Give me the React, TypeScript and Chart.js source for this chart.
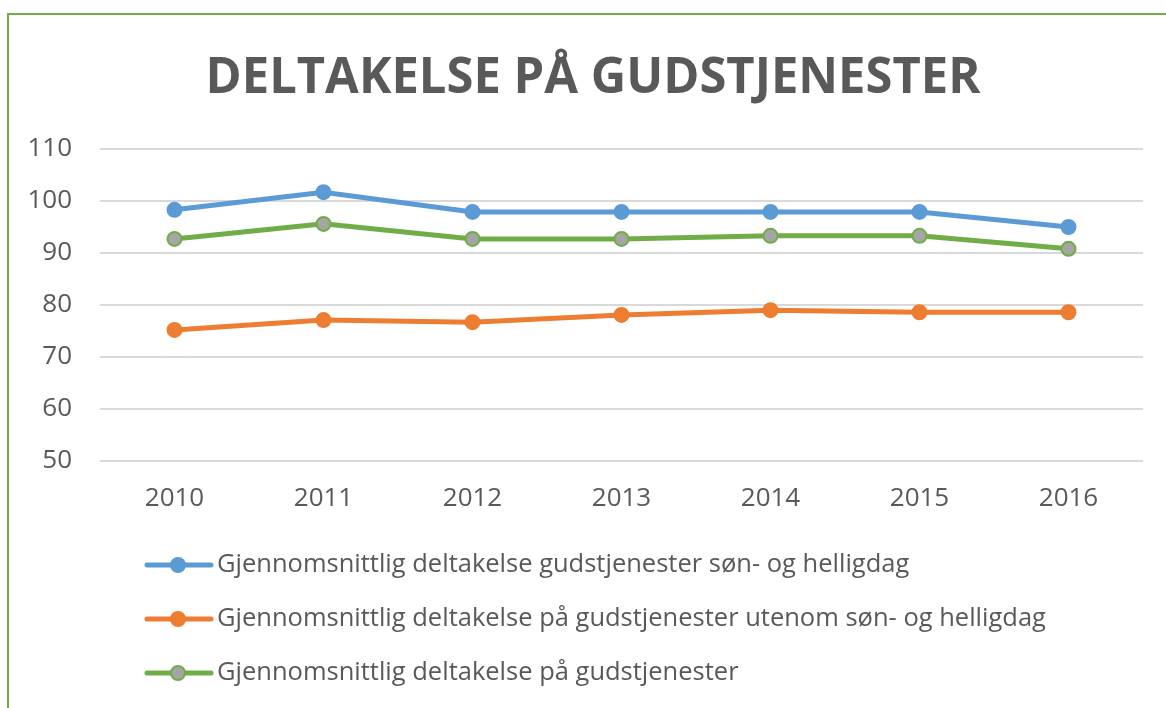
import React, { useEffect, useRef } from "react";
import { Chart, registerables } from "chart.js";

Chart.register(...registerables);

const TITLE = "DELTAKELSE PÅ GUDSTJENESTER";
const categories = ["2010", "2011", "2012", "2013", "2014", "2015", "2016"];
const seriesNames = [
  "Gjennomsnittlig deltakelse gudstjenester søn- og helligdag",
  "Gjennomsnittlig deltakelse på gudstjenester utenom søn- og helligdag",
  "Gjennomsnittlig deltakelse på gudstjenester",
];
const sonOgHelligdag = [98.3, 101.7, 97.9, 97.9, 97.9, 97.9, 95.0];
const utenomSonOgHelligdag = [75.2, 77.1, 76.7, 78.1, 79.0, 78.6, 78.6];
const totalt = [92.7, 95.6, 92.7, 92.7, 93.3, 93.3, 90.8];
const yTicks = [50, 60, 70, 80, 90, 100, 110];

const TEXT = "#595959";
const FONT = "'Open Sans', 'DejaVu Sans', sans-serif";

const titlePlugin = {
  id: "customTitle",
  afterDraw(chart: any) {
    const ctx = chart.ctx;
    ctx.save();
    ctx.fillStyle = TEXT;
    ctx.font = `bold 50px ${FONT}`;
    ctx.textAlign = "center";
    ctx.textBaseline = "alphabetic";
    ctx.fillText(TITLE, 593, 93, 775);
    ctx.restore();
  },
};

const legendPlugin = {
  id: "customLegend",
  afterDraw(chart: any) {
    const ctx = chart.ctx;
    const ys = [565, 619, 673];
    chart.data.datasets.forEach((ds: any, i: number) => {
      const y = ys[i];
      ctx.save();
      ctx.strokeStyle = ds.borderColor;
      ctx.lineWidth = 5;
      ctx.lineCap = "round";
      ctx.beginPath();
      ctx.moveTo(147, y);
      ctx.lineTo(211, y);
      ctx.stroke();
      ctx.beginPath();
      ctx.arc(178, y, 7, 0, Math.PI * 2);
      ctx.fillStyle = ds.pointBackgroundColor;
      ctx.fill();
      ctx.lineWidth = 2;
      ctx.strokeStyle = ds.pointBorderColor;
      ctx.stroke();
      ctx.fillStyle = TEXT;
      ctx.font = `25.5px ${FONT}`;
      ctx.textAlign = "left";
      ctx.textBaseline = "middle";
      ctx.fillText(ds.label, 217, y);
      ctx.restore();
    });
  },
};

function App() {
  const ref = useRef<HTMLCanvasElement | null>(null);
  useEffect(() => {
    if (!ref.current) return;
    const chart = new Chart(ref.current, {
      type: "line",
      data: {
        labels: categories,
        datasets: [
          {
            label: seriesNames[0],
            data: sonOgHelligdag,
            borderColor: "#5B9BD5",
            backgroundColor: "#5B9BD5",
            pointBackgroundColor: "#5B9BD5",
            pointBorderColor: "#5B9BD5",
            borderWidth: 5,
            pointRadius: 7,
            pointBorderWidth: 2,
          },
          {
            label: seriesNames[1],
            data: utenomSonOgHelligdag,
            borderColor: "#ED7D31",
            backgroundColor: "#ED7D31",
            pointBackgroundColor: "#ED7D31",
            pointBorderColor: "#ED7D31",
            borderWidth: 5,
            pointRadius: 7,
            pointBorderWidth: 2,
          },
          {
            label: seriesNames[2],
            data: totalt,
            borderColor: "#70AD47",
            backgroundColor: "#A5A5A5",
            pointBackgroundColor: "#A5A5A5",
            pointBorderColor: "#70AD47",
            borderWidth: 5,
            pointRadius: 7,
            pointBorderWidth: 2,
          },
        ],
      },
      options: {
        responsive: false,
        animation: false,
        layout: { padding: { left: 0, right: 23, top: 149, bottom: 0 } },
        plugins: {
          legend: { display: false },
          title: { display: false },
          tooltip: { enabled: false },
        },
        scales: {
          x: {
            offset: true,
            grid: { display: false, drawTicks: false },
            border: { display: false },
            ticks: { color: TEXT, font: { family: FONT, size: 26 }, padding: 22 },
            afterFit(scale: any) {
              scale.height = 247;
            },
          },
          y: {
            min: 50,
            max: 110,
            afterBuildTicks(scale: any) {
              scale.ticks = yTicks.map((v) => ({ value: v }));
            },
            grid: { color: "#D9D9D9", lineWidth: 2, drawTicks: false },
            border: { display: false },
            ticks: { color: TEXT, font: { family: FONT, size: 26 }, padding: 28 },
            afterFit(scale: any) {
              scale.width = 100;
            },
          },
        },
      },
      plugins: [titlePlugin, legendPlugin],
    });
    return () => chart.destroy();
  }, []);
  return (
    <div style={{ position: "fixed", left: 0, top: 0, width: 1166, height: 708, background: "#fff", overflow: "hidden" }}>
      <canvas ref={ref} width={1166} height={708} style={{ position: "absolute", left: 0, top: 0 }} />
      <div
        style={{
          position: "absolute",
          left: 7,
          top: 13,
          width: 1200,
          height: 800,
          borderLeft: "2px solid #70AD47",
          borderTop: "2px solid #70AD47",
          pointerEvents: "none",
        }}
      />
    </div>
  );
}

export default App;
